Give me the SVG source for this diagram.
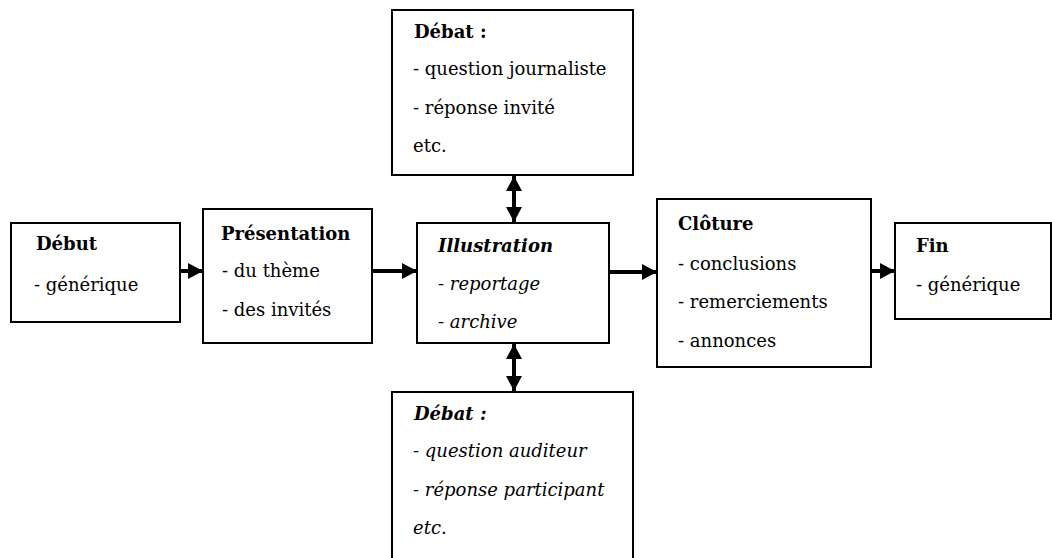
<svg xmlns="http://www.w3.org/2000/svg" width="1052" height="558" viewBox="0 0 1052 558">
<style>
.box{fill:#fff;stroke:#000;stroke-width:2}
text{font-family:"DejaVu Serif","Liberation Serif",serif;font-size:18px;fill:#000}
.t{font-weight:bold}
.i{font-style:italic}
.c{stroke:#000;stroke-width:4;fill:none}
</style>
<defs>
<marker id="ah" markerUnits="userSpaceOnUse" markerWidth="16" markerHeight="18" refX="15" refY="9" orient="auto-start-reverse" viewBox="0 0 16 18">
<path d="M0,1 L15,9 L0,17 Z" fill="#000"/>
</marker>
</defs>
<g id="debut">
<rect class="box" x="11" y="223" width="169" height="99"/>
<text class="t" x="36" y="250">Début</text>
<text x="34" y="291">- générique</text>
</g>
<g id="presentation">
<rect class="box" x="203" y="209" width="169" height="134"/>
<text class="t" x="221" y="240">Présentation</text>
<text x="222" y="277">- du thème</text>
<text x="222" y="316">- des invités</text>
</g>
<g id="illustration">
<rect class="box" x="417" y="223" width="192" height="120"/>
<text class="t i" x="438" y="252">Illustration</text>
<text class="i" x="438" y="290">- reportage</text>
<text class="i" x="438" y="328">- archive</text>
</g>
<g id="debat-haut">
<rect class="box" x="392" y="10" width="241" height="165"/>
<text class="t" x="414" y="38">Débat :</text>
<text x="413" y="75">- question journaliste</text>
<text x="413" y="114">- réponse invité</text>
<text x="413" y="152">etc.</text>
</g>
<g id="debat-bas">
<rect class="box" x="392" y="392" width="241" height="180"/>
<text class="t i" x="414" y="420">Débat :</text>
<text class="i" x="413" y="457">- question auditeur</text>
<text class="i" x="413" y="496">- réponse participant</text>
<text class="i" x="413" y="534">etc.</text>
</g>
<g id="cloture">
<rect class="box" x="657" y="199" width="214" height="168"/>
<text class="t" x="678" y="230">Clôture</text>
<text x="678" y="270">- conclusions</text>
<text x="678" y="308">- remerciements</text>
<text x="678" y="347">- annonces</text>
</g>
<g id="fin">
<rect class="box" x="895" y="223" width="156" height="96"/>
<text class="t" x="916" y="252">Fin</text>
<text x="916" y="291">- générique</text>
</g>
<g id="connectors">
<line class="c" x1="180" y1="271" x2="203" y2="271" marker-end="url(#ah)"/>
<line class="c" x1="372" y1="271" x2="417" y2="271" marker-end="url(#ah)"/>
<line class="c" x1="609" y1="272" x2="657" y2="272" marker-end="url(#ah)"/>
<line class="c" x1="871" y1="271" x2="895" y2="271" marker-end="url(#ah)"/>
<line class="c" x1="514" y1="176" x2="514" y2="222" marker-start="url(#ah)" marker-end="url(#ah)"/>
<line class="c" x1="514" y1="344" x2="514" y2="391" marker-start="url(#ah)" marker-end="url(#ah)"/>
</g>
</svg>
